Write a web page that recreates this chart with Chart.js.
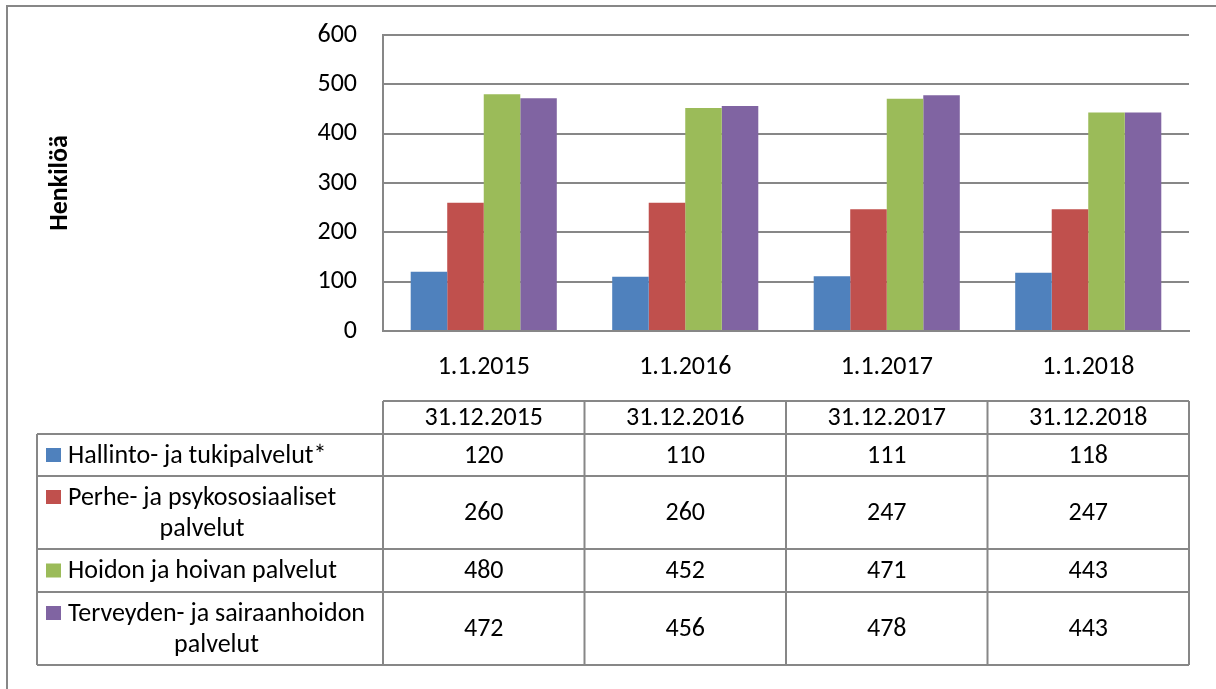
<!DOCTYPE html>
<html>
<head>
<meta charset="utf-8">
<script src="https://cdn.jsdelivr.net/npm/chart.js@4.4.1/dist/chart.umd.min.js"></script>
<style>
  html, body { margin: 0; padding: 0; background: #fff; }
  #wrap { width: 1216px; height: 689px; position: relative; }
</style>
</head>
<body>
<div id="wrap"><canvas id="c" width="1216" height="689"></canvas></div>
<script>
// ---- data ----
const categories = ['1.1.2015', '1.1.2016', '1.1.2017', '1.1.2018'];
const tableHeaders = ['31.12.2015', '31.12.2016', '31.12.2017', '31.12.2018'];
const seriesLabels = [
  ['Hallinto- ja tukipalvelut*'],
  ['Perhe- ja psykososiaaliset', 'palvelut'],
  ['Hoidon ja hoivan palvelut'],
  ['Terveyden- ja sairaanhoidon', 'palvelut']
];
const hallinto = [120, 110, 111, 118];
const perhe = [260, 260, 247, 247];
const hoidon = [480, 452, 471, 443];
const terveyden = [472, 456, 478, 443];
const yTicks = [0, 100, 200, 300, 400, 500, 600];
const yTitle = 'Henkilöä';

const seriesValues = [hallinto, perhe, hoidon, terveyden];
const colors = ['#4F81BD', '#C0504D', '#9BBB59', '#8064A2'];

const FONT = 'Carlito, Lato, sans-serif';
const FS = 26;
const GRID = '#878787';

Chart.defaults.font.family = FONT;
Chart.defaults.font.size = FS;
Chart.defaults.color = '#000';

// table layout (pixels)
const headerTop = 401;
const rowEdges = [434, 476, 549, 592, 665];
const legendLeft = 37;

const framePlugin = {
  id: 'frame',
  beforeDraw(chart) {
    const ctx = chart.ctx;
    ctx.save();
    ctx.fillStyle = '#fff';
    ctx.fillRect(0, 0, chart.width, chart.height);
    ctx.strokeStyle = GRID;
    ctx.lineWidth = 2;
    ctx.strokeRect(7, 6, chart.width + 10, chart.height + 10);
    ctx.restore();
  }
};

const tablePlugin = {
  id: 'dataTable',
  afterDraw(chart) {
    const ctx = chart.ctx;
    const xs = chart.scales.x;
    const n = categories.length;
    const cw = (xs.right - xs.left) / n;
    const colEdges = [];
    for (let i = 0; i < n; i++) colEdges.push(xs.getPixelForValue(i) - cw / 2);
    colEdges.push(xs.getPixelForValue(n - 1) + cw / 2);
    const right = colEdges[n];
    ctx.save();
    ctx.strokeStyle = GRID;
    ctx.lineWidth = 2;
    ctx.beginPath();
    ctx.moveTo(colEdges[0], headerTop); ctx.lineTo(right, headerTop);
    rowEdges.forEach((y) => { ctx.moveTo(legendLeft, y); ctx.lineTo(right, y); });
    ctx.moveTo(legendLeft, rowEdges[0]); ctx.lineTo(legendLeft, rowEdges[rowEdges.length - 1]);
    colEdges.forEach((x) => { ctx.moveTo(x, headerTop); ctx.lineTo(x, rowEdges[rowEdges.length - 1]); });
    ctx.stroke();

    ctx.fillStyle = '#000';
    ctx.font = FS + 'px ' + FONT;
    ctx.textBaseline = 'middle';
    ctx.textAlign = 'center';
    for (let i = 0; i < n; i++) {
      ctx.fillText(tableHeaders[i], (colEdges[i] + colEdges[i + 1]) / 2, (headerTop + rowEdges[0]) / 2 + 1);
    }
    const lh = 31;
    chart.data.datasets.forEach((ds, r) => {
      const top = rowEdges[r], bot = rowEdges[r + 1];
      const mid = (top + bot) / 2;
      const lines = seriesLabels[r];
      const firstY = mid - (lines.length - 1) * lh / 2;
      ctx.fillStyle = ds.backgroundColor;
      ctx.fillRect(46, firstY - 7, 15, 14);
      ctx.fillStyle = '#000';
      const tx = 68;
      const w1 = ctx.measureText(lines[0]).width;
      lines.forEach((ln, k) => {
        const y = firstY + k * lh + 1;
        if (k === 0) { ctx.textAlign = 'left'; ctx.fillText(ln, tx, y); }
        else { ctx.textAlign = 'center'; ctx.fillText(ln, tx + w1 / 2, y); }
      });
      ctx.textAlign = 'center';
      ds.data.forEach((v, i) => {
        ctx.fillText(String(v), (colEdges[i] + colEdges[i + 1]) / 2, mid + 1);
      });
    });
    ctx.restore();
  }
};

new Chart(document.getElementById('c'), {
  type: 'bar',
  data: {
    labels: categories,
    datasets: seriesValues.map((vals, i) => ({
      label: seriesLabels[i].join(' '),
      data: vals,
      backgroundColor: colors[i],
      borderWidth: 0,
      categoryPercentage: 0.725,
      barPercentage: 1.0
    }))
  },
  options: {
    responsive: false,
    animation: false,
    devicePixelRatio: 1,
    layout: { padding: { left: 30, right: 27, top: 35, bottom: 0 } },
    plugins: { legend: { display: false }, tooltip: { enabled: false }, title: { display: false } },
    scales: {
      x: {
        grid: { display: false, drawTicks: false },
        border: { display: true, color: GRID, width: 2 },
        ticks: { padding: 21, font: { size: FS }, color: '#000', maxRotation: 0 },
        afterFit(scale) { scale.height = 689 - 331; }
      },
      y: {
        min: 0, max: 600,
        afterBuildTicks(scale) { scale.ticks = yTicks.map((v) => ({ value: v })); },
        grid: { color: GRID, lineWidth: 2, drawTicks: true, tickLength: 24, tickColor: 'rgba(0,0,0,0)' },
        border: { display: true, color: GRID, width: 2 },
        ticks: { padding: 2, font: { size: FS }, color: '#000' },
        title: { display: true, text: yTitle, font: { size: 26, weight: 'bold' }, color: '#000', padding: { top: 15, bottom: 0 } },
        afterFit(scale) { scale.width = 383 - 30; }
      }
    }
  },
  plugins: [framePlugin, tablePlugin]
});
</script>
</body>
</html>
